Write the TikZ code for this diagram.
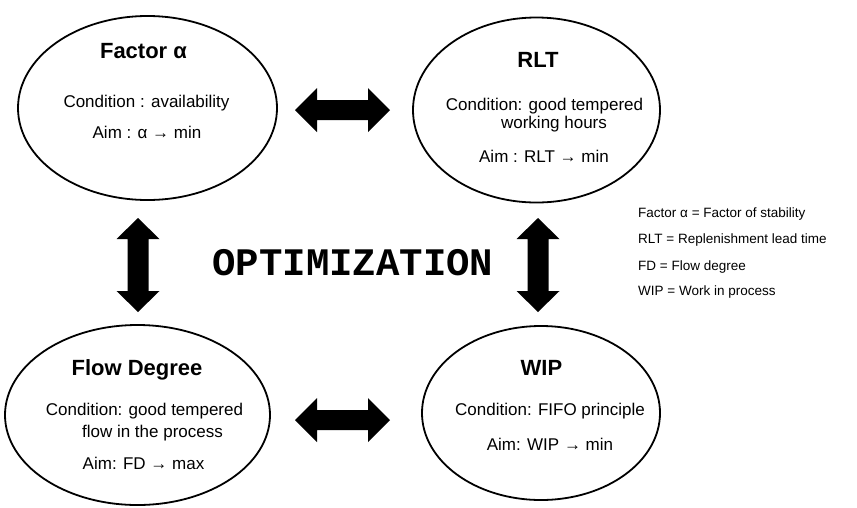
\documentclass[tikz,border=0pt]{standalone}
\usepackage{fontspec}
\setmainfont{Liberation Sans}
\newfontfamily\optfont{Liberation Mono}
\usetikzlibrary{shapes.geometric}
\tikzset{
  bubble/.style={ellipse, draw=black, line width=1.8pt, inner sep=0pt},
  ttl/.style={anchor=base, inner sep=0pt, font=\fontsize{22}{26}\selectfont\bfseries},
  txt/.style={anchor=base, inner sep=0pt, font=\fontsize{17}{20}\selectfont},
  leg/.style={anchor=base west, inner sep=0pt, font=\fontsize{13.5}{16}\selectfont},
  blockarrow/.style={fill=black}
}
\begin{document}
\begin{tikzpicture}[x=1pt,y=-1pt]
\useasboundingbox (0,0) rectangle (857,507);
% ellipses
\node[bubble, minimum width=259, minimum height=184] (fa) at (147.5,108) {};
\node[bubble, minimum width=247, minimum height=185] (rlt) at (536.5,110) {};
\node[bubble, minimum width=265, minimum height=180] (fd) at (137.5,415) {};
\node[bubble, minimum width=238, minimum height=174] (wip) at (541,413) {};
% texts Factor alpha
\node[ttl] (fat) at (143.5,58) {Factor α};
\node[txt] (fac) at (146.5,107) {Condition : availability};
\node[txt] (faa) at (147,138) {Aim : α → min};
% RLT
\node[ttl] (rltt) at (538,67) {RLT};
\node[txt] (rltc) at (544.5,110) {Condition: good tempered};
\node[txt] (rltw) at (554,128) {working hours};
\node[txt] (rlta) at (544,162) {Aim : RLT → min};
% Flow degree
\node[ttl] (fdt) at (137,375) {Flow Degree};
\node[txt] (fdc) at (144.5,415) {Condition: good tempered};
\node[txt] (fdf) at (152.5,437) {flow in the process};
\node[txt] (fda) at (143.5,469) {Aim: FD → max};
% WIP
\node[ttl] (wipt) at (541.5,375) {WIP};
\node[txt] (wipc) at (550,415) {Condition: FIFO principle};
\node[txt] (wipa) at (550,450) {Aim: WIP → min};
% optimization
\node[anchor=base, inner sep=0pt, font=\optfont\bfseries\fontsize{39}{44}\selectfont] (opt) at (353,275) {OPTIMIZATION};
% legend
\node[leg] (l1) at (638,217) {Factor α = Factor of stability};
\node[leg] (l2) at (638,243) {RLT = Replenishment lead time};
\node[leg] (l3) at (638,270) {FD = Flow degree};
\node[leg] (l4) at (638,295) {WIP = Work in process};
% block arrows
\coordinate (htop) at (342.5,110);
\coordinate (hbot) at (342.5,420);
\coordinate (vleft) at (138,265);
\coordinate (vright) at (538,265);
\foreach \c in {htop,hbot}{
  \fill[blockarrow, shift={(\c)}] (-47.5,0) -- (-25.5,-22) -- (-25.5,-10) -- (25.5,-10) -- (25.5,-22) -- (47.5,0) -- (25.5,22) -- (25.5,10) -- (-25.5,10) -- (-25.5,22) -- cycle;
}
\foreach \c in {vleft,vright}{
  \fill[blockarrow, shift={(\c)}] (0,-47) -- (21.5,-26) -- (10.5,-26) -- (10.5,26) -- (21.5,26) -- (0,47) -- (-21.5,26) -- (-10.5,26) -- (-10.5,-26) -- (-21.5,-26) -- cycle;
}
\end{tikzpicture}
\end{document}
